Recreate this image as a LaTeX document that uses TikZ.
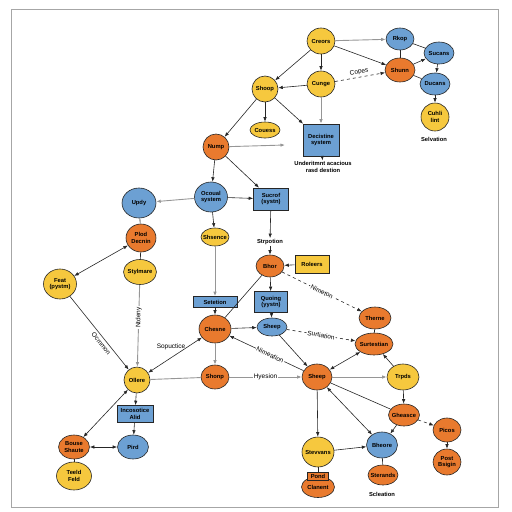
\documentclass[tikz,border=0pt]{standalone}
\usepackage{fontspec}
\setmainfont{Liberation Sans}
\usetikzlibrary{shapes.geometric,arrows.meta}
\definecolor{nyel}{RGB}{246,200,62}
\definecolor{norg}{RGB}{233,122,46}
\definecolor{nblu}{RGB}{108,160,211}
\definecolor{lgray}{RGB}{150,150,150}
\newcommand{\nf}{\fontsize{5.8}{6.5}\selectfont\bfseries}
\newcommand{\lf}{\fontsize{6.5}{7.2}\selectfont}
\begin{document}
\begin{tikzpicture}[x=1pt,y=-1pt,
  base/.style={draw=black!85, line width=0.6pt, align=center, font=\nf},
  yel/.style={base, ellipse, fill=nyel, inner xsep=-2.5pt, inner ysep=-0.5pt},
  org/.style={base, ellipse, fill=norg, inner xsep=-2.5pt, inner ysep=-0.5pt},
  blu/.style={base, ellipse, fill=nblu, inner xsep=-2.5pt, inner ysep=-0.5pt},
  bbox/.style={base, rectangle, fill=nblu, inner sep=1pt},
  ybox/.style={base, rectangle, fill=nyel, inner sep=1pt},
  arr/.style={-{Latex[length=4.5pt,width=3.5pt]}, line width=0.6pt, draw=black!85},
  darr/.style={{Latex[length=4.5pt,width=3.5pt]}-{Latex[length=4.5pt,width=3.5pt]}, line width=0.6pt, draw=black!85},
  ln/.style={line width=0.6pt, draw=black!85},
  garr/.style={-{Latex[length=4.5pt,width=3.5pt]}, line width=0.9pt, draw=lgray},
  gln/.style={line width=0.9pt, draw=lgray},
  lab/.style={font=\lf, fill=white, inner sep=1pt, text=black},
  txt/.style={font=\nf, align=center, inner sep=1pt}
]
\useasboundingbox (0,0) rectangle (512,512);
\draw[gray!70, line width=0.8pt] (11,9) rectangle (498,507);

% nodes
\node[yel, minimum width=28pt, minimum height=26pt] (creors) at (321,41) {Creors};
\node[blu, minimum width=28pt, minimum height=22pt] (rkop) at (400,39) {Rkop};
\node[blu, minimum width=30pt, minimum height=22pt] (sucans) at (439,53) {Sucans};
\node[org, minimum width=30pt, minimum height=24pt] (shunn) at (400,70) {Shunn};
\node[blu, minimum width=30pt, minimum height=22pt] (ducans) at (435,84) {Ducans};
\node[yel, minimum width=28pt, minimum height=28pt] (cuhli) at (435,117) {Cuhli\\lint};
\node[txt] (selv) at (434,139) {Selvation};
\node[yel, minimum width=28pt, minimum height=26pt] (cunge) at (321,84) {Cunge};
\node[yel, minimum width=26pt, minimum height=26pt] (shoop) at (265,89) {Shoop};
\node[yel, minimum width=30pt, minimum height=16pt] (couess) at (265,130) {Couess};
\node[bbox, minimum width=36pt, minimum height=32pt] (decis) at (321,140) {Decistine\\system};
\node[txt] (under) at (323,167) {Underitmnt acacious\\rasd destion};
\node[org, minimum width=26pt, minimum height=26pt] (nump) at (216,147) {Nump};
\coordinate (numpend) at (285,145);
\node[blu, minimum width=33pt, minimum height=30pt] (ocoual) at (211,197) {Ocoual\\system};
\node[bbox, minimum width=35pt, minimum height=22pt] (sucrof) at (271,199) {Sucrof\\(systn)};
\node[yel, minimum width=28pt, minimum height=18pt] (shsence) at (215,237) {Shsence};
\node[txt] (strp) at (270,242) {Strpotion};
\node[blu, minimum width=34pt, minimum height=30pt] (updy) at (139,203) {Updy};
\node[org, minimum width=30pt, minimum height=28pt] (plod) at (141,238) {Plod\\Decnin};
\node[yel, minimum width=33pt, minimum height=25pt] (stylm) at (140,272) {Stylmare};
\node[yel, minimum width=33pt, minimum height=30pt] (feat) at (60,284) {Feat\\(pystm)};
\node[org, minimum width=28pt, minimum height=22pt] (bhor) at (270,266) {Bhor};
\node[ybox, minimum width=34pt, minimum height=18pt] (roleers) at (312,264) {Roleers};
\node[bbox, minimum width=33pt, minimum height=21pt] (quoing) at (271,302) {Quoing\\(yystn)};
\node[bbox, minimum width=44pt, minimum height=11pt] (setet) at (215,302) {Setetion};
\node[org, minimum width=32pt, minimum height=28pt] (chesne) at (215,329) {Chesne};
\node[blu, minimum width=30pt, minimum height=18pt] (sheepb) at (272,327) {Sheep};
\node[org, minimum width=28pt, minimum height=24pt] (shonp) at (215,377) {Shonp};
\node[org, minimum width=30pt, minimum height=26pt] (sheep) at (317,377) {Sheep};
\node[org, minimum width=32pt, minimum height=22pt] (therne) at (375,318) {Therne};
\node[org, minimum width=38pt, minimum height=22pt] (surt) at (374,344) {Surtestian};
\node[yel, minimum width=32pt, minimum height=26pt] (trpds) at (403,377) {Trpds};
\node[org, minimum width=31pt, minimum height=22pt] (gheas) at (404,415) {Gheasce};
\node[org, minimum width=28pt, minimum height=24pt] (picos) at (447,430) {Picos};
\node[org, minimum width=28pt, minimum height=26pt] (post) at (447,462) {Post\\Bsigin};
\node[blu, minimum width=31pt, minimum height=26pt] (bheore) at (382,445) {Bheore};
\node[org, minimum width=30pt, minimum height=20pt] (sterands) at (383,475) {Sterands};
\node[yel, minimum width=32pt, minimum height=30pt] (stevv) at (318,452) {Stevvans};
\node[org, minimum width=33pt, minimum height=21pt] (clan) at (318,487) {Clanent};
\node[base, rectangle, fill=norg, inner sep=0.5pt, minimum width=21pt, minimum height=8pt] (pond) at (318,476) {Pond};
\node[txt] (sclea) at (382,494) {Scleation};
\node[yel, minimum width=26pt, minimum height=26pt] (ollere) at (137,380) {Ollere};
\node[bbox, minimum width=36pt, minimum height=17pt] (incos) at (135,414) {Incosotice\\Alid};
\node[blu, minimum width=31pt, minimum height=24pt] (pird) at (133,447) {Pird};
\node[org, minimum width=31pt, minimum height=24pt] (bouse) at (74,447) {Bouse\\Shaute};
\node[yel, minimum width=35pt, minimum height=28pt] (teeld) at (74,476) {Teeld\\Feld};

% edges
\draw[garr] (creors) -- (rkop);
\draw[arr] (creors) -- (shunn);
\draw[arr] (creors) -- (cunge);
\draw[arr] (creors) -- (shoop);
\draw[ln] (rkop) -- (shunn);
\draw[ln] (rkop) -- (sucans);
\draw[arr] (shunn) -- (sucans);
\draw[ln] (shunn) -- (ducans);
\draw[arr] (sucans) -- (ducans);
\draw[arr] (ducans) -- (cuhli);
\draw[arr, dashed] (cunge) -- node[font=\lf, sloped, above, inner sep=2pt] {Copes} (shunn);
\draw[arr] (cunge) -- (shoop);
\draw[garr] (cunge) -- (decis);
\draw[arr] (shoop) -- (couess);
\draw[arr] (shoop) -- (decis);
\draw[arr] (shoop) -- (nump);
\draw[garr] (nump) -- (numpend);
\draw[arr] (decis) -- (under);
\draw[arr] (nump) -- (ocoual);
\draw[arr] (nump) -- (sucrof);
\draw[arr] (ocoual) -- (sucrof);
\draw[garr] (ocoual) -- (updy);
\draw[arr] (ocoual) -- (shsence);
\draw[arr] (sucrof) -- (strp);
\draw[arr] (strp) -- (bhor);
\draw[ln] (updy) -- (plod);
\draw[ln] (plod) -- (stylm);
\draw[darr] (feat) -- (plod);
\draw[garr] (stylm) -- node[lab, rotate=90, pos=0.4] {Ntdeny} (ollere);
\draw[arr] (feat) -- node[font=\lf, sloped, below, pos=0.6, inner sep=2.5pt] {Ocmmon} (ollere);
\draw[garr] (shsence) -- (setet);
\draw[arr] (setet) -- (chesne);
\draw[arr] (roleers) -- (bhor);
\draw[arr] (bhor) -- (quoing);
\draw[ln] (bhor) -- (chesne);
\draw[arr, dashed] (bhor) -- node[lab, sloped] {Nimeton} (therne);
\draw[arr] (quoing) -- (sheepb);
\draw[arr] (chesne) -- (sheepb);
\draw[arr, dashed] (sheepb) -- node[lab, sloped] {Surtiation} (surt);
\draw[arr] (sheepb) -- (sheep);
\draw[arr] (sheep) -- node[lab, sloped, pos=0.45] {Nimeation} (chesne);
\draw[darr] (chesne) -- node[font=\lf, pos=0.5, above=4pt, xshift=-4pt, inner sep=1pt] {Sopuctice} (ollere);
\draw[garr] (chesne) -- (shonp);
\draw[gln] (ollere) -- (shonp);
\draw[garr] (shonp) -- node[lab] {Hyesion} (sheep);
\draw[ln] (therne) -- (surt);
\draw[darr] (surt) -- (sheep);
\draw[arr] (trpds) -- (surt);
\draw[garr] (sheep) -- (trpds);
\draw[arr] (trpds) -- (gheas);
\draw[ln] (sheep) -- (gheas);
\draw[arr, dashed] (gheas) -- (picos);
\draw[arr] (gheas) -- (bheore);
\draw[arr] (picos) -- (post);
\draw[darr] (sheep) -- (bheore);
\draw[arr] (sheep) -- (stevv);
\draw[arr] (stevv) -- (bheore);
\draw[ln] (bheore) -- (sterands);
\draw[ln] (stevv) -- (pond);
\draw[arr] (ollere) -- (incos);
\draw[arr] (incos) -- (pird);
\draw[darr] (ollere) -- (bouse);
\draw[darr] (bouse) -- (pird);
\draw[ln] (bouse) -- (teeld);
\end{tikzpicture}
\end{document}
